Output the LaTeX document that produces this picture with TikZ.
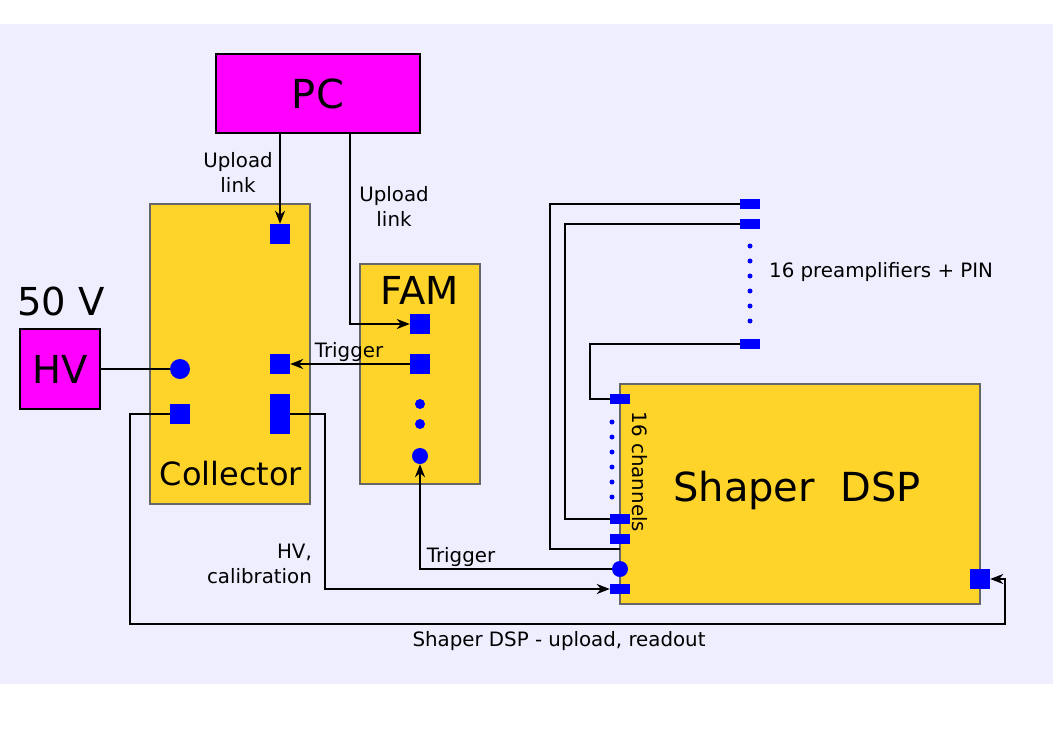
\documentclass[tikz,border=0pt]{standalone}
\usepackage{fontspec}
\setmainfont{DejaVu Sans}
\usetikzlibrary{arrows.meta}
\definecolor{bgc}{HTML}{EEEEFF}
\definecolor{gold}{HTML}{FFD42A}
\definecolor{mag}{HTML}{FF00FF}
\definecolor{pblue}{HTML}{0000FF}
\definecolor{bord}{HTML}{666666}
\tikzset{
  big/.style={font=\fontsize{38.5}{44}\selectfont},
  small/.style={font=\fontsize{19.8}{25}\selectfont},
  pinkbox/.style={draw=black, line width=1.6pt, fill=mag, inner sep=0pt},
  goldbox/.style={draw=bord, line width=1.3pt, fill=gold, inner sep=0pt},
  port/.style={fill=pblue, draw=none, inner sep=0pt, minimum width=20pt, minimum height=20pt},
  portw/.style={fill=pblue, draw=none, inner sep=0pt, minimum width=20pt, minimum height=10pt},
  tallport/.style={fill=pblue, draw=none, inner sep=0pt, minimum width=20pt, minimum height=40pt},
  bigdot/.style={circle, fill=pblue, draw=none, inner sep=0pt, minimum size=20pt},
  middot/.style={circle, fill=pblue, draw=none, inner sep=0pt, minimum size=16pt},
  fdot/.style={circle, fill=pblue, draw=none, inner sep=0pt, minimum size=10pt},
  tdot/.style={circle, fill=pblue, draw=none, inner sep=0pt, minimum size=5pt},
  wire/.style={draw=black, line width=1.9pt},
  arr/.style={wire, -{Stealth[length=13pt, width=10pt, inset=4pt]}},
  lbl/.style={small, text=black, inner sep=0pt, align=center}
}
\begin{document}
\begin{tikzpicture}[x=1pt, y=-1pt]
\useasboundingbox (0,0) rectangle (1053,745);
\fill[bgc] (0,24) rectangle (1053,684);

% main boxes
\node[pinkbox, minimum width=204pt, minimum height=79pt] (pc) at (318,93.5) {};
\node[font=\fontsize{40}{46}\selectfont] (pctext) at (318,94) {PC};
\node[pinkbox, minimum width=80pt, minimum height=80pt] (hv) at (60,369) {};
\node[big] (hvtext) at (60,369) {HV};
\node[big] (fifty) at (61,301) {50 V};
\node[goldbox, minimum width=160pt, minimum height=300pt] (coll) at (230,354) {};
\node[font=\fontsize{32}{37}\selectfont] (colltext) at (231,474) {Collector};
\node[goldbox, minimum width=120pt, minimum height=220pt] (fam) at (420,374) {};
\node[big] (famtext) at (420,290) {FAM};
\node[goldbox, minimum width=360pt, minimum height=220pt] (dsp) at (800,494) {};
\node[font=\fontsize{40}{46}\selectfont] (dsptext) at (797,490) {Shaper\ \ DSP};

% collector ports
\node[port] (csq1) at (280,234) {};
\node[port] (cmid) at (280,364) {};
\node[tallport] (ctall) at (280,414) {};
\node[bigdot] (ccirc) at (180,369) {};
\node[port] (csqleft) at (180,414) {};

% FAM ports
\node[port] (fsq1) at (420,324) {};
\node[port] (fsq2) at (420,364) {};
\node[fdot] (fd1) at (420,404) {};
\node[fdot] (fd2) at (420,424) {};
\node[middot] (fcirc) at (420,456) {};

% Shaper ports
\node[portw] (ds1) at (620,399) {};
\foreach \yy/\nn in {422/a,437/b,452/c,467/d,482/e,497/f}
  \node[tdot] (dd\nn) at (612,\yy) {};
\node[portw] (ds2) at (620,519) {};
\node[portw] (ds3) at (620,539) {};
\node[middot] (dcirc) at (620,569) {};
\node[portw] (ds4) at (620,589) {};
\node[port] (dsr) at (980,579) {};

% preamplifiers
\node[portw] (pa1) at (750,204) {};
\node[portw] (pa2) at (750,224) {};
\foreach \yy/\nn in {246/a,261/b,276/c,291/d,306/e,321/f}
  \node[tdot] (pd\nn) at (750,\yy) {};
\node[portw] (pa3) at (750,344) {};

% wires
\draw[arr] (csq1.north |- pc.south) -- (csq1.north);
\draw[arr] ([xshift=32pt]pc.south) |- (fsq1.west);
\draw[arr] (fsq2.west) -- (cmid.east);
\draw[wire] (hv.east) -- (ccirc.west);
\draw[arr] (csqleft.west) -| (130,624) -| (1005,579) -- (dsr.east);
\draw[arr] (ctall.east) -| (325,589) -- (ds4.west);
\draw[arr] (dcirc.west) -| (fcirc.south);
\draw[wire] (pa1.west) -| (550,549) -- (620,549);
\draw[wire] (pa2.west) -| (565,519) -- (ds2.west);
\draw[wire] (pa3.west) -| (590,399) -- (ds1.west);

% labels
\node[lbl] (ul1) at (238,172) {Upload\\link};
\node[lbl] (ul2) at (394,206) {Upload\\link};
\node[lbl, anchor=base] (trig1) at (349,357) {Trigger};
\node[lbl, anchor=base] (trig2) at (461,562) {Trigger};
\node[lbl, align=right, anchor=east] (hvcal) at (312,564) {HV,\\calibration};
\node[lbl, anchor=west] (pre) at (769,272) {16 preamplifiers + PIN};
\node[lbl, rotate=-90] (chan) at (640,472) {16 channels};
\node[lbl, anchor=base] (shup) at (559,646) {Shaper DSP - upload, readout};
\end{tikzpicture}
\end{document}
